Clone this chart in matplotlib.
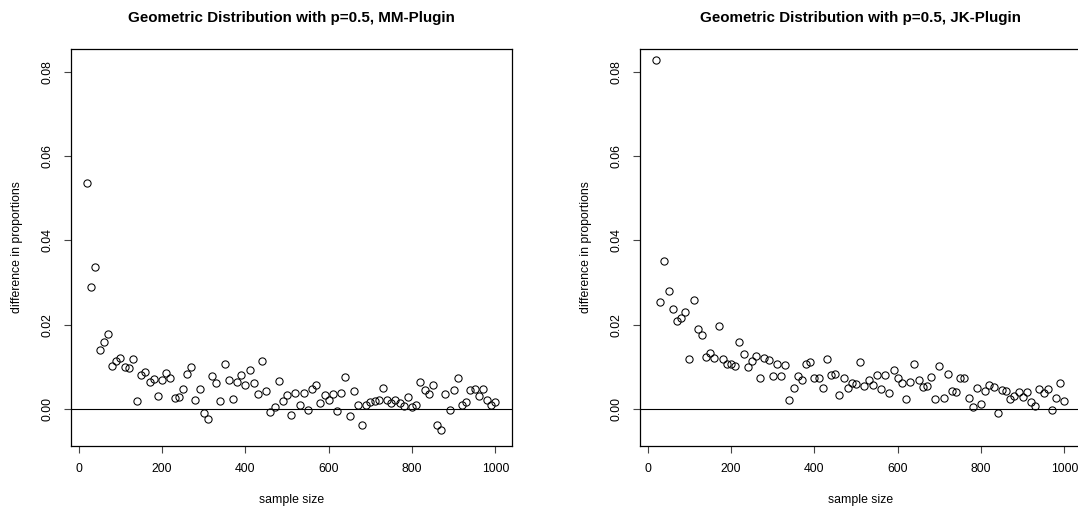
import matplotlib
matplotlib.use("Agg")
import matplotlib.pyplot as plt
import numpy as np

plt.rcParams['font.family'] = ['Liberation Sans', 'DejaVu Sans']

sample_size = list(range(20, 1001, 10))

mm_plugin = [
    0.0535, 0.0289, 0.0338, 0.0141, 0.0159, 0.0179, 0.0103, 0.0115, 0.0121, 0.0101,
    0.0097, 0.0119, 0.0019, 0.0081, 0.0089, 0.0065, 0.0072, 0.0032, 0.0069, 0.0085,
    0.0074, 0.0027, 0.0030, 0.0049, 0.0083, 0.0101, 0.0021, 0.0047, -0.0009, -0.0024,
    0.0078, 0.0063, 0.0019, 0.0107, 0.0069, 0.0025, 0.0065, 0.0081, 0.0057, 0.0093,
    0.0063, 0.0036, 0.0115, 0.0043, -0.0007, 0.0006, 0.0066, 0.0019, 0.0034, -0.0013,
    0.0039, 0.0009, 0.0039, -0.0003, 0.0047, 0.0057, 0.0015, 0.0033, 0.0021, 0.0035,
    -0.0005, 0.0039, 0.0077, -0.0015, 0.0043, 0.0009, -0.0037, 0.0011, 0.0017, 0.0019,
    0.0021, 0.0051, 0.0023, 0.0015, 0.0021, 0.0014, 0.0007, 0.0028, 0.0005, 0.0010,
    0.0065, 0.0045, 0.0035, 0.0057, -0.0037, -0.0050, 0.0035, -0.0003, 0.0045, 0.0073,
    0.0009, 0.0017, 0.0045, 0.0049, 0.0032, 0.0049, 0.0021, 0.0010, 0.0017,
]

jk_plugin = [
    0.0827, 0.0254, 0.0352, 0.0280, 0.0238, 0.0210, 0.0217, 0.0231, 0.0120, 0.0258,
    0.0190, 0.0176, 0.0124, 0.0134, 0.0122, 0.0198, 0.0119, 0.0108, 0.0108, 0.0103,
    0.0160, 0.0130, 0.0099, 0.0115, 0.0126, 0.0075, 0.0122, 0.0116, 0.0078, 0.0108,
    0.0078, 0.0104, 0.0023, 0.0051, 0.0078, 0.0069, 0.0106, 0.0112, 0.0073, 0.0073,
    0.0051, 0.0119, 0.0082, 0.0084, 0.0033, 0.0073, 0.0050, 0.0062, 0.0060, 0.0111,
    0.0055, 0.0070, 0.0058, 0.0081, 0.0048, 0.0082, 0.0038, 0.0092, 0.0074, 0.0062,
    0.0024, 0.0064, 0.0107, 0.0070, 0.0052, 0.0055, 0.0077, 0.0024, 0.0103, 0.0027,
    0.0083, 0.0042, 0.0040, 0.0075, 0.0073, 0.0027, 0.0006, 0.0050, 0.0013, 0.0042,
    0.0058, 0.0052, -0.0008, 0.0046, 0.0042, 0.0024, 0.0032, 0.0040, 0.0028, 0.0040,
    0.0018, 0.0008, 0.0048, 0.0038, 0.0048, -0.0002, 0.0026, 0.0062, 0.0020,
]

titles = ["Geometric Distribution with p=0.5, MM-Plugin",
          "Geometric Distribution with p=0.5, JK-Plugin"]
x_ticks = [0, 200, 400, 600, 800, 1000]
y_ticks = [0.00, 0.02, 0.04, 0.06, 0.08]
y_tick_labels = ["0.00", "0.02", "0.04", "0.06", "0.08"]
x_label = "sample size"
y_label = "difference in proportions"

W, H = 1078, 509
fig = plt.figure(figsize=(W / 100, H / 100), dpi=100)

def px_axes(left, top, right, bottom):
    return fig.add_axes([left / W, 1 - bottom / H, (right - left) / W, (bottom - top) / H])

panels = [
    (px_axes(70.7, 49.3, 511.7, 445.5), mm_plugin, titles[0]),
    (px_axes(639.7, 49.3, 1080.7, 445.5), jk_plugin, titles[1]),
]

for ax, vals, title in panels:
    ax.plot(sample_size, vals, linestyle='none', marker='o', markersize=5.2,
            markerfacecolor='none', markeredgecolor='black', markeredgewidth=0.75,
            clip_on=False)
    ax.axhline(0, color='black', linewidth=0.8)
    ax.set_xlim(-19.2, 1039.2)
    ax.set_ylim(-0.0086, 0.0853)
    ax.set_xticks(x_ticks)
    ax.set_xticklabels([str(t) for t in x_ticks])
    ax.set_yticks(y_ticks)
    ax.set_yticklabels(y_tick_labels, rotation=90, va='center')
    ax.tick_params(direction='out', length=5, width=0.8, labelsize=8.8, pad=7.5,
                   color='#444444')
    for sp in ax.spines.values():
        sp.set_linewidth(0.9)
        sp.set_color('black')
    ax.set_xlabel(x_label, fontsize=8.8, labelpad=14)
    ax.set_ylabel(y_label, fontsize=8.8, labelpad=13)
    ax.set_title(title, fontsize=10.9, fontweight='bold', pad=19.5)

fig.savefig("out.png", dpi=100)
